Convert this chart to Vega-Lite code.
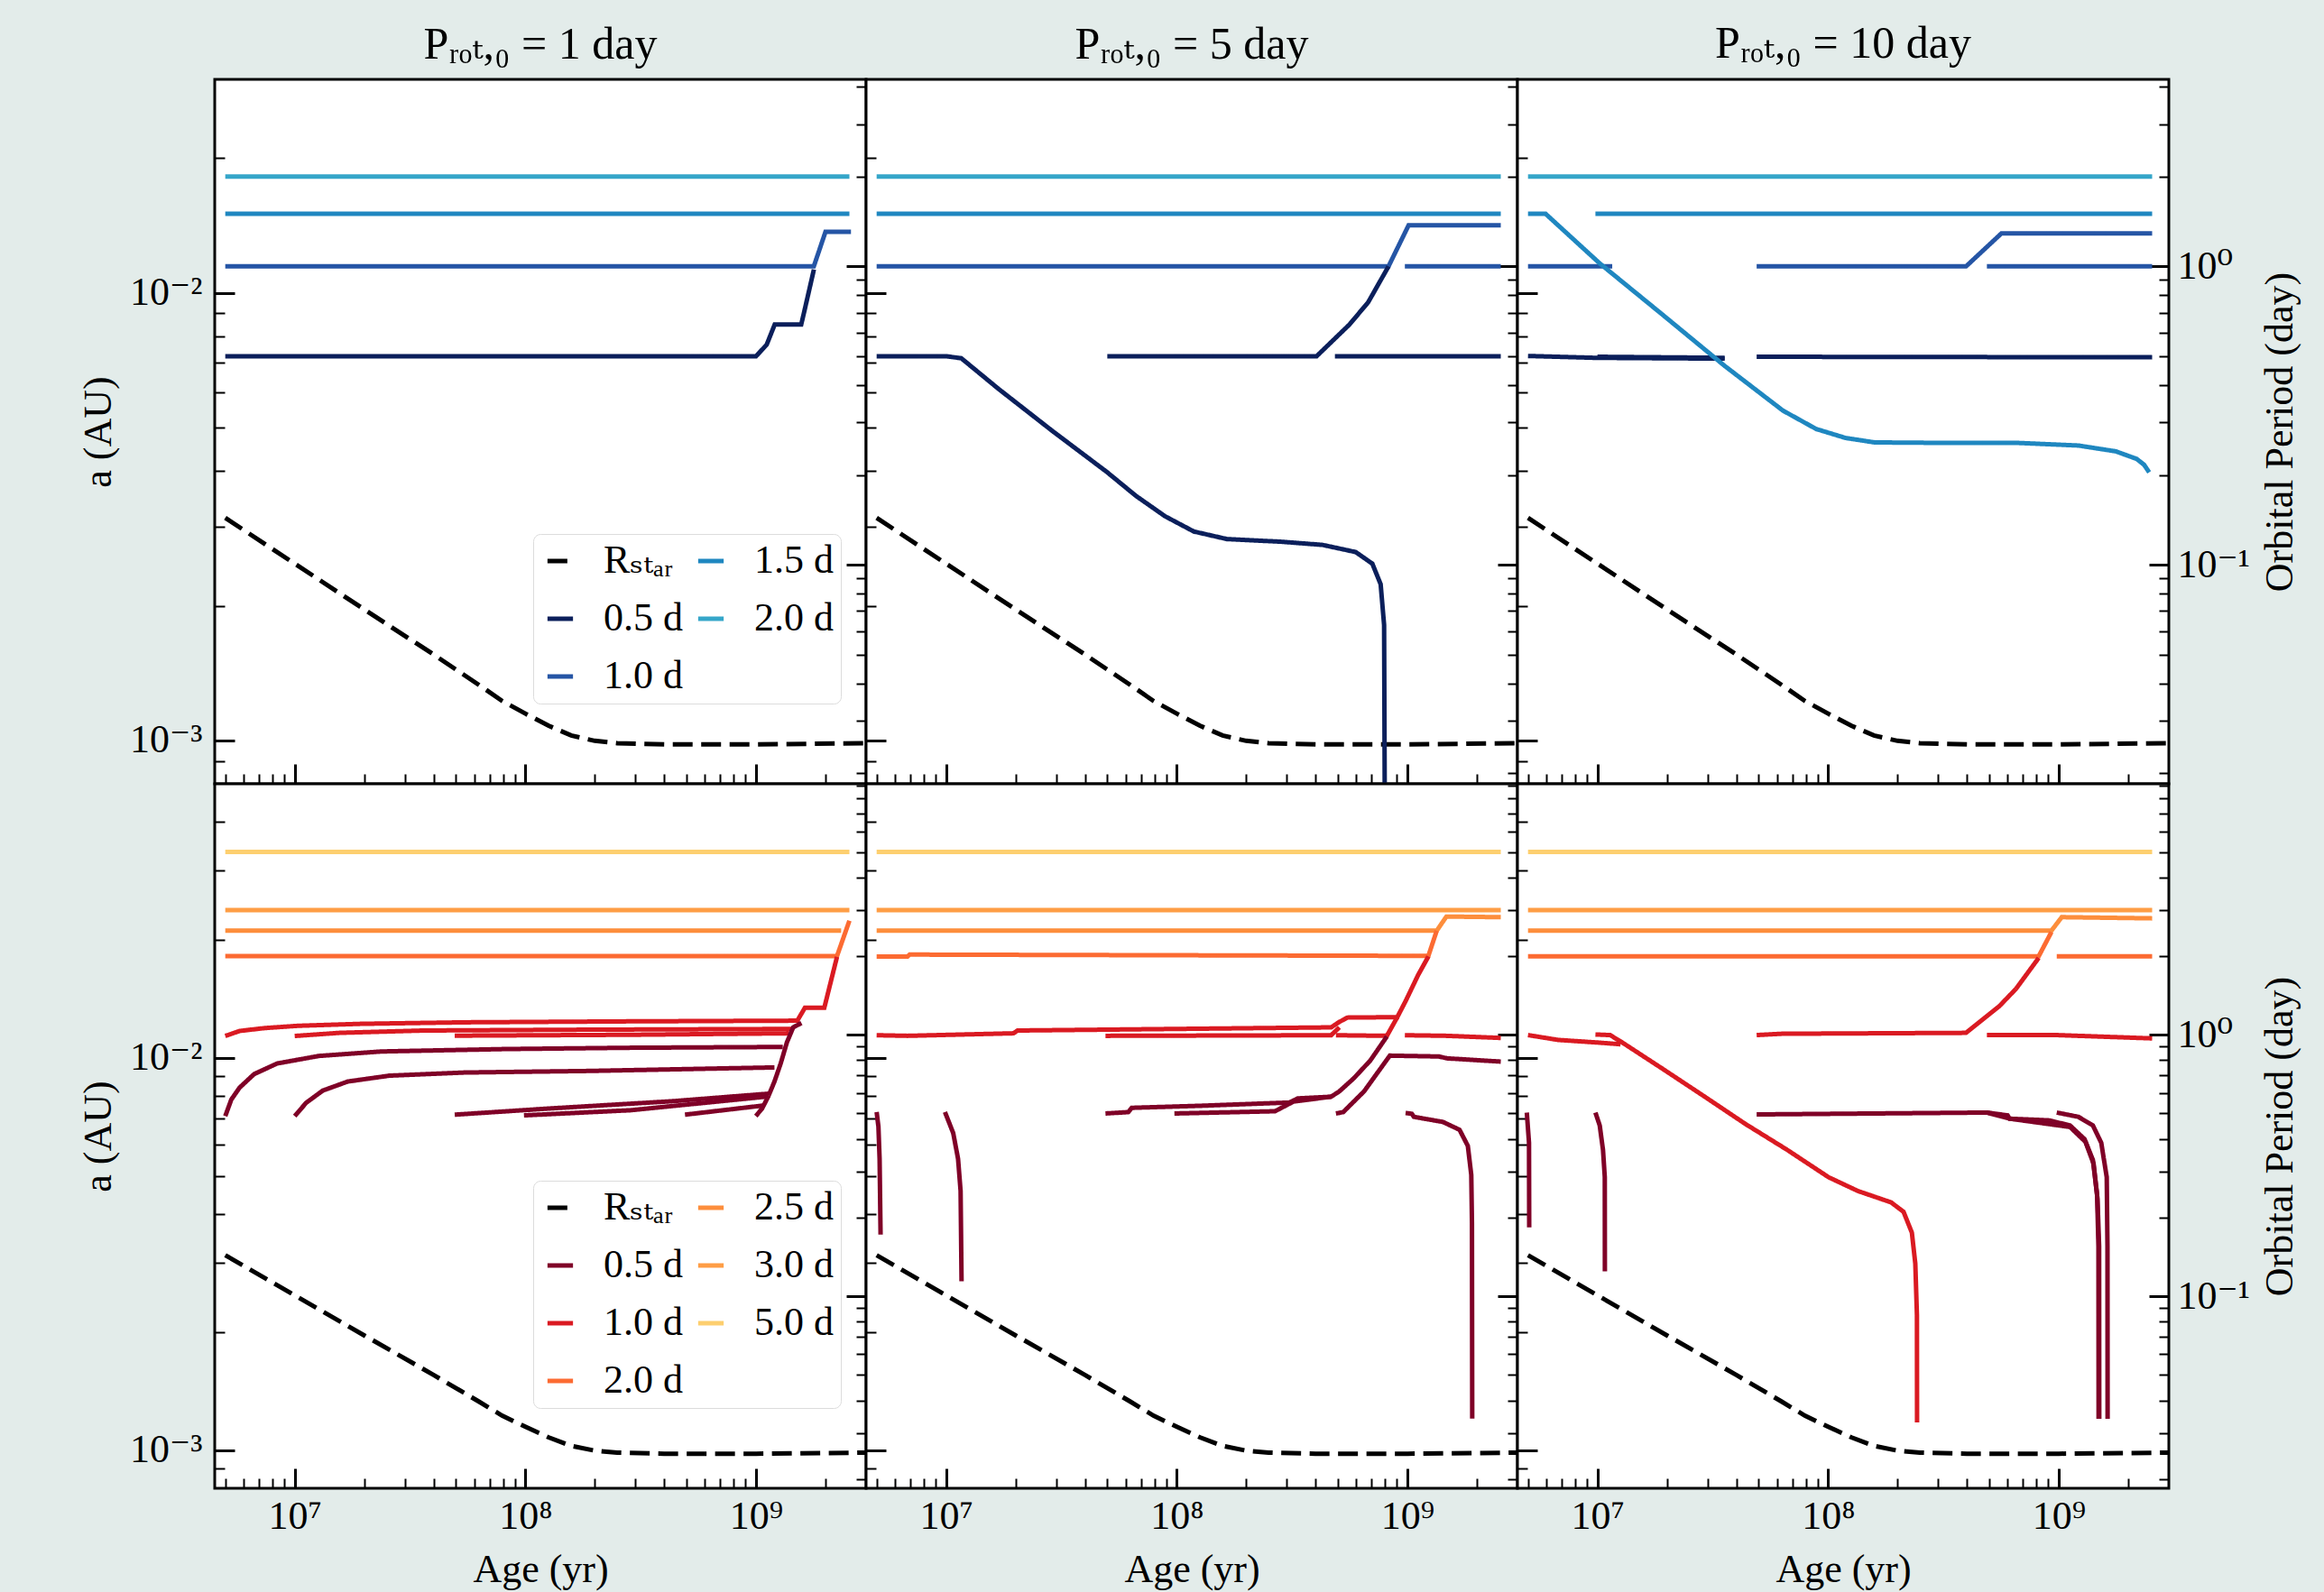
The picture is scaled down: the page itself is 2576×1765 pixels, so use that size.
{
"$schema": "https://vega.github.io/schema/vega-lite/v6.json",
"background": "#e3ecea",
"autosize": {"type": "pad"},
"padding": {"left": 86, "top": 22, "right": 30, "bottom": 10},
"config": {
 "font": "Liberation Serif, DejaVu Serif",
 "view": {"stroke": "black", "strokeWidth": 3, "fill": "white"},
 "axis": {"domain": false, "grid": false, "labelFont": "Liberation Serif, DejaVu Serif", "titleFont": "Liberation Serif, DejaVu Serif", "labelFontSize": 44, "titleFontSize": 44, "titleFontWeight": "normal", "labelColor": "black", "titleColor": "black", "tickColor": "black", "labelFlush": false, "labelOverlap": false, "labelBound": false},
 "title": {"font": "Liberation Serif, DejaVu Serif", "fontSize": 50, "fontWeight": "normal", "color": "black"},
 "legend": {"columns": 2, "title": null, "symbolType": "stroke", "symbolSize": 800, "symbolStrokeWidth": 5, "labelFontSize": 44, "labelFont": "Liberation Serif, DejaVu Serif", "labelColor": "black", "rowPadding": 20, "columnPadding": 6, "labelOffset": 26, "padding": 8, "fillColor": "white", "strokeColor": "#dcdcdc", "cornerRadius": 8}
},
"datasets": {"d": [
{"p":"R","s":"r","g":"Rstar","t":5e6,"a":0.003143},
{"p":"R","s":"r","g":"Rstar","t":1e7,"a":0.002483},
{"p":"R","s":"r","g":"Rstar","t":2e7,"a":0.001963},
{"p":"R","s":"r","g":"Rstar","t":4e7,"a":0.001556},
{"p":"R","s":"r","g":"Rstar","t":6.3e7,"a":0.00133},
{"p":"R","s":"r","g":"Rstar","t":7.94e7,"a":0.001225},
{"p":"R","s":"r","g":"Rstar","t":1e8,"a":0.001148},
{"p":"R","s":"r","g":"Rstar","t":1.26e8,"a":0.001079},
{"p":"R","s":"r","g":"Rstar","t":1.58e8,"a":0.001026},
{"p":"R","s":"r","g":"Rstar","t":2e8,"a":0.000998},
{"p":"R","s":"r","g":"Rstar","t":2.5e8,"a":0.000986},
{"p":"R","s":"r","g":"Rstar","t":4e8,"a":0.00098},
{"p":"R","s":"r","g":"Rstar","t":1e9,"a":0.00098},
{"p":"R","s":"r","g":"Rstar","t":3e9,"a":0.000986},

{"p":"T1","s":"a","g":"2.0 d","t":5e6,"a":0.01819},
{"p":"T1","s":"a","g":"2.0 d","t":2.54e9,"a":0.01819},
{"p":"T1","s":"b","g":"1.5 d","t":5e6,"a":0.01502},
{"p":"T1","s":"b","g":"1.5 d","t":2.54e9,"a":0.01502},
{"p":"T1","s":"c","g":"1.0 d","t":5e6,"a":0.01146},
{"p":"T1","s":"c","g":"1.0 d","t":1.78e9,"a":0.01146},
{"p":"T1","s":"c","g":"1.0 d","t":2.0e9,"a":0.01369},
{"p":"T1","s":"c","g":"1.0 d","t":2.58e9,"a":0.01369},
{"p":"T1","s":"d","g":"0.5 d","t":5e6,"a":0.00722},
{"p":"T1","s":"d","g":"0.5 d","t":1e9,"a":0.00722},
{"p":"T1","s":"d","g":"0.5 d","t":1.112e9,"a":0.00766},
{"p":"T1","s":"d","g":"0.5 d","t":1.205e9,"a":0.0085},
{"p":"T1","s":"d","g":"0.5 d","t":1.57e9,"a":0.0085},
{"p":"T1","s":"d","g":"0.5 d","t":1.618e9,"a":0.00908},
{"p":"T1","s":"d","g":"0.5 d","t":1.782e9,"a":0.01128},

{"p":"T2","s":"a","g":"2.0 d","t":5e6,"a":0.01819},
{"p":"T2","s":"a","g":"2.0 d","t":2.54e9,"a":0.01819},
{"p":"T2","s":"b","g":"1.5 d","t":5e6,"a":0.01502},
{"p":"T2","s":"b","g":"1.5 d","t":2.54e9,"a":0.01502},
{"p":"T2","s":"c","g":"1.0 d","t":5e6,"a":0.01146},
{"p":"T2","s":"c","g":"1.0 d","t":8.28e8,"a":0.01146},
{"p":"T2","s":"c","g":"1.0 d","t":1.012e9,"a":0.01416},
{"p":"T2","s":"c","g":"1.0 d","t":2.54e9,"a":0.01416},
{"p":"T2","s":"e","g":"1.0 d","t":9.75e8,"a":0.01146},
{"p":"T2","s":"e","g":"1.0 d","t":2.54e9,"a":0.01146},
{"p":"T2","s":"f","g":"0.5 d","t":5e6,"a":0.00722},
{"p":"T2","s":"f","g":"0.5 d","t":1e7,"a":0.00722},
{"p":"T2","s":"f","g":"0.5 d","t":1.164e7,"a":0.007145},
{"p":"T2","s":"f","g":"0.5 d","t":1.69e7,"a":0.0061},
{"p":"T2","s":"f","g":"0.5 d","t":2.897e7,"a":0.00491},
{"p":"T2","s":"f","g":"0.5 d","t":4.977e7,"a":0.00398},
{"p":"T2","s":"f","g":"0.5 d","t":6.653e7,"a":0.00352},
{"p":"T2","s":"f","g":"0.5 d","t":8.89e7,"a":0.00317},
{"p":"T2","s":"f","g":"0.5 d","t":1.186e8,"a":0.00293},
{"p":"T2","s":"f","g":"0.5 d","t":1.652e8,"a":0.002818},
{"p":"T2","s":"f","g":"0.5 d","t":2.831e8,"a":0.00278},
{"p":"T2","s":"f","g":"0.5 d","t":4.285e8,"a":0.002735},
{"p":"T2","s":"f","g":"0.5 d","t":5.97e8,"a":0.002636},
{"p":"T2","s":"f","g":"0.5 d","t":7.047e8,"a":0.002483},
{"p":"T2","s":"f","g":"0.5 d","t":7.656e8,"a":0.002234},
{"p":"T2","s":"f","g":"0.5 d","t":7.925e8,"a":0.001811},
{"p":"T2","s":"f","g":"0.5 d","t":7.998e8,"a":0.0005},
{"p":"T2","s":"g","g":"0.5 d","t":5e7,"a":0.00722},
{"p":"T2","s":"g","g":"0.5 d","t":4.04e8,"a":0.00722},
{"p":"T2","s":"g","g":"0.5 d","t":5.61e8,"a":0.0085},
{"p":"T2","s":"g","g":"0.5 d","t":6.76e8,"a":0.00953},
{"p":"T2","s":"g","g":"0.5 d","t":8.28e8,"a":0.01146},
{"p":"T2","s":"h","g":"0.5 d","t":4.85e8,"a":0.00722},
{"p":"T2","s":"h","g":"0.5 d","t":2.54e9,"a":0.00722},

{"p":"T3","s":"a","g":"2.0 d","t":5e6,"a":0.01819},
{"p":"T3","s":"a","g":"2.0 d","t":2.54e9,"a":0.01819},
{"p":"T3","s":"c","g":"1.5 d","t":9.8e6,"a":0.01502},
{"p":"T3","s":"c","g":"1.5 d","t":2.54e9,"a":0.01502},
{"p":"T3","s":"d","g":"1.0 d","t":5e6,"a":0.01146},
{"p":"T3","s":"d","g":"1.0 d","t":1.159e7,"a":0.01146},
{"p":"T3","s":"e","g":"1.0 d","t":4.9e7,"a":0.01146},
{"p":"T3","s":"e","g":"1.0 d","t":3.96e8,"a":0.01146},
{"p":"T3","s":"e","g":"1.0 d","t":5.64e8,"a":0.01358},
{"p":"T3","s":"e","g":"1.0 d","t":2.54e9,"a":0.01358},
{"p":"T3","s":"f","g":"1.0 d","t":4.88e8,"a":0.01146},
{"p":"T3","s":"f","g":"1.0 d","t":2.54e9,"a":0.01146},
{"p":"T3","s":"g","g":"0.5 d","t":5e6,"a":0.00723},
{"p":"T3","s":"g","g":"0.5 d","t":9.8e6,"a":0.00716},
{"p":"T3","s":"g","g":"0.5 d","t":3.56e7,"a":0.00713},
{"p":"T3","s":"h","g":"0.5 d","t":1e7,"a":0.0072},
{"p":"T3","s":"h","g":"0.5 d","t":3.56e7,"a":0.00716},
{"p":"T3","s":"i","g":"0.5 d","t":4.9e7,"a":0.0072},
{"p":"T3","s":"i","g":"0.5 d","t":2.54e9,"a":0.00718},
{"p":"T3","s":"b","g":"1.5 d","t":5e6,"a":0.01502},
{"p":"T3","s":"b","g":"1.5 d","t":5.96e6,"a":0.01502},
{"p":"T3","s":"b","g":"1.5 d","t":1.023e7,"a":0.01164},
{"p":"T3","s":"b","g":"1.5 d","t":1.91e7,"a":0.00895},
{"p":"T3","s":"b","g":"1.5 d","t":3.56e7,"a":0.00687},
{"p":"T3","s":"b","g":"1.5 d","t":6.37e7,"a":0.005458},
{"p":"T3","s":"b","g":"1.5 d","t":8.87e7,"a":0.004966},
{"p":"T3","s":"b","g":"1.5 d","t":1.189e8,"a":0.004742},
{"p":"T3","s":"b","g":"1.5 d","t":1.589e8,"a":0.004634},
{"p":"T3","s":"b","g":"1.5 d","t":2.84e8,"a":0.004624},
{"p":"T3","s":"b","g":"1.5 d","t":6.52e8,"a":0.004624},
{"p":"T3","s":"b","g":"1.5 d","t":1.216e9,"a":0.00456},
{"p":"T3","s":"b","g":"1.5 d","t":1.766e9,"a":0.004426},
{"p":"T3","s":"b","g":"1.5 d","t":2.178e9,"a":0.004256},
{"p":"T3","s":"b","g":"1.5 d","t":2.344e9,"a":0.00413},
{"p":"T3","s":"b","g":"1.5 d","t":2.466e9,"a":0.003972},

{"p":"B1","s":"a","g":"5.0 d","t":5e6,"a":0.03351},
{"p":"B1","s":"a","g":"5.0 d","t":2.54e9,"a":0.03351},
{"p":"B1","s":"b","g":"3.0 d","t":5e6,"a":0.02384},
{"p":"B1","s":"b","g":"3.0 d","t":2.54e9,"a":0.02384},
{"p":"B1","s":"c","g":"2.5 d","t":5e6,"a":0.02111},
{"p":"B1","s":"c","g":"2.5 d","t":2.339e9,"a":0.02111},
{"p":"B1","s":"d","g":"2.0 d","t":5e6,"a":0.01819},
{"p":"B1","s":"d","g":"2.0 d","t":2.244e9,"a":0.01819},
{"p":"B1","s":"d","g":"2.0 d","t":2.54e9,"a":0.02239},
{"p":"B1","s":"e","g":"1.0 d","t":5e6,"a":0.01138},
{"p":"B1","s":"e","g":"1.0 d","t":5.77e6,"a":0.01172},
{"p":"B1","s":"e","g":"1.0 d","t":7.41e6,"a":0.01192},
{"p":"B1","s":"e","g":"1.0 d","t":1.033e7,"a":0.01208},
{"p":"B1","s":"e","g":"1.0 d","t":1.928e7,"a":0.01222},
{"p":"B1","s":"e","g":"1.0 d","t":5.45e7,"a":0.01233},
{"p":"B1","s":"e","g":"1.0 d","t":2.864e8,"a":0.0124},
{"p":"B1","s":"e","g":"1.0 d","t":1.51e9,"a":0.01245},
{"p":"B1","s":"e","g":"1.0 d","t":1.629e9,"a":0.01343},
{"p":"B1","s":"e","g":"1.0 d","t":1.977e9,"a":0.01343},
{"p":"B1","s":"e","g":"1.0 d","t":2.244e9,"a":0.01811},
{"p":"B1","s":"f","g":"1.0 d","t":1e7,"a":0.01138},
{"p":"B1","s":"f","g":"1.0 d","t":1.563e7,"a":0.01159},
{"p":"B1","s":"f","g":"1.0 d","t":3.59e7,"a":0.01175},
{"p":"B1","s":"f","g":"1.0 d","t":1.892e8,"a":0.01181},
{"p":"B1","s":"f","g":"1.0 d","t":1.449e9,"a":0.01186},
{"p":"B1","s":"g","g":"1.0 d","t":4.94e7,"a":0.0114},
{"p":"B1","s":"g","g":"1.0 d","t":2.864e8,"a":0.01146},
{"p":"B1","s":"g","g":"1.0 d","t":1.39e9,"a":0.01156},
{"p":"B1","s":"h","g":"0.5 d","t":5e6,"a":0.007112},
{"p":"B1","s":"h","g":"0.5 d","t":5.31e6,"a":0.007834},
{"p":"B1","s":"h","g":"0.5 d","t":5.77e6,"a":0.008405},
{"p":"B1","s":"h","g":"0.5 d","t":6.67e6,"a":0.009099},
{"p":"B1","s":"h","g":"0.5 d","t":8.39e6,"a":0.009683},
{"p":"B1","s":"h","g":"0.5 d","t":1.271e7,"a":0.01012},
{"p":"B1","s":"h","g":"0.5 d","t":2.371e7,"a":0.01039},
{"p":"B1","s":"h","g":"0.5 d","t":8.24e7,"a":0.01054},
{"p":"B1","s":"h","g":"0.5 d","t":2.864e8,"a":0.01062},
{"p":"B1","s":"h","g":"0.5 d","t":1.306e9,"a":0.01067},
{"p":"B1","s":"i","g":"0.5 d","t":1e7,"a":0.007112},
{"p":"B1","s":"i","g":"0.5 d","t":1.122e7,"a":0.007691},
{"p":"B1","s":"i","g":"0.5 d","t":1.324e7,"a":0.00826},
{"p":"B1","s":"i","g":"0.5 d","t":1.698e7,"a":0.00871},
{"p":"B1","s":"i","g":"0.5 d","t":2.576e7,"a":0.009016},
{"p":"B1","s":"i","g":"0.5 d","t":5.45e7,"a":0.009183},
{"p":"B1","s":"i","g":"0.5 d","t":1.892e8,"a":0.009268},
{"p":"B1","s":"i","g":"0.5 d","t":1.202e9,"a":0.009462},
{"p":"B1","s":"j","g":"0.5 d","t":4.94e7,"a":0.00717},
{"p":"B1","s":"j","g":"0.5 d","t":1.247e8,"a":0.00743},
{"p":"B1","s":"j","g":"0.5 d","t":4.345e8,"a":0.00776},
{"p":"B1","s":"j","g":"0.5 d","t":1.13e9,"a":0.00811},
{"p":"B1","s":"k","g":"0.5 d","t":9.86e7,"a":0.00714},
{"p":"B1","s":"k","g":"0.5 d","t":2.864e8,"a":0.00736},
{"p":"B1","s":"k","g":"0.5 d","t":1.13e9,"a":0.00798},
{"p":"B1","s":"l","g":"0.5 d","t":4.92e8,"a":0.00717},
{"p":"B1","s":"l","g":"0.5 d","t":1.084e9,"a":0.00757},
{"p":"B1","s":"m","g":"0.5 d","t":9.98e8,"a":0.007112},
{"p":"B1","s":"m","g":"0.5 d","t":1.062e9,"a":0.00743},
{"p":"B1","s":"m","g":"0.5 d","t":1.13e9,"a":0.00798},
{"p":"B1","s":"m","g":"0.5 d","t":1.202e9,"a":0.00871},
{"p":"B1","s":"m","g":"0.5 d","t":1.279e9,"a":0.009683},
{"p":"B1","s":"m","g":"0.5 d","t":1.361e9,"a":0.01096},
{"p":"B1","s":"m","g":"0.5 d","t":1.449e9,"a":0.01197},
{"p":"B1","s":"m","g":"0.5 d","t":1.574e9,"a":0.01228},

{"p":"B2","s":"a","g":"5.0 d","t":5e6,"a":0.03351},
{"p":"B2","s":"a","g":"5.0 d","t":2.54e9,"a":0.03351},
{"p":"B2","s":"b","g":"3.0 d","t":5e6,"a":0.02384},
{"p":"B2","s":"b","g":"3.0 d","t":2.54e9,"a":0.02384},
{"p":"B2","s":"c","g":"2.5 d","t":5e6,"a":0.02111},
{"p":"B2","s":"c","g":"2.5 d","t":1.34e9,"a":0.02111},
{"p":"B2","s":"c","g":"2.5 d","t":1.476e9,"a":0.02294},
{"p":"B2","s":"c","g":"2.5 d","t":2.54e9,"a":0.02286},
{"p":"B2","s":"d","g":"2.0 d","t":5e6,"a":0.01815},
{"p":"B2","s":"d","g":"2.0 d","t":6.81e6,"a":0.01815},
{"p":"B2","s":"d","g":"2.0 d","t":6.95e6,"a":0.01835},
{"p":"B2","s":"d","g":"2.0 d","t":1.233e9,"a":0.01821},
{"p":"B2","s":"d","g":"2.0 d","t":1.34e9,"a":0.02111},
{"p":"B2","s":"e","g":"1.0 d","t":5e6,"a":0.01143},
{"p":"B2","s":"e","g":"1.0 d","t":6.81e6,"a":0.01139},
{"p":"B2","s":"e","g":"1.0 d","t":1.959e7,"a":0.01156},
{"p":"B2","s":"e","g":"1.0 d","t":2.042e7,"a":0.01175},
{"p":"B2","s":"e","g":"1.0 d","t":4.67e8,"a":0.01197},
{"p":"B2","s":"e","g":"1.0 d","t":5.07e8,"a":0.01236},
{"p":"B2","s":"e","g":"1.0 d","t":5.5e8,"a":0.01268},
{"p":"B2","s":"e","g":"1.0 d","t":9.04e8,"a":0.01271},
{"p":"B2","s":"e","g":"1.0 d","t":9.82e8,"a":0.01396},
{"p":"B2","s":"e","g":"1.0 d","t":1.112e9,"a":0.01626},
{"p":"B2","s":"e","g":"1.0 d","t":1.233e9,"a":0.01815},
{"p":"B2","s":"f","g":"1.0 d","t":4.91e7,"a":0.01139},
{"p":"B2","s":"f","g":"1.0 d","t":4.67e8,"a":0.01143},
{"p":"B2","s":"f","g":"1.0 d","t":5.07e8,"a":0.01197},
{"p":"B2","s":"g","g":"1.0 d","t":4.9e8,"a":0.01143},
{"p":"B2","s":"g","g":"1.0 d","t":8.15e8,"a":0.01139},
{"p":"B2","s":"g","g":"1.0 d","t":9.04e8,"a":0.01271},
{"p":"B2","s":"h","g":"1.0 d","t":9.75e8,"a":0.01143},
{"p":"B2","s":"h","g":"1.0 d","t":1.486e9,"a":0.01139},
{"p":"B2","s":"h","g":"1.0 d","t":2.54e9,"a":0.01125},
{"p":"B2","s":"i","g":"0.5 d","t":5e6,"a":0.00728},
{"p":"B2","s":"i","g":"0.5 d","t":5.09e6,"a":0.006683},
{"p":"B2","s":"i","g":"0.5 d","t":5.15e6,"a":0.005534},
{"p":"B2","s":"i","g":"0.5 d","t":5.2e6,"a":0.003548},
{"p":"B2","s":"j","g":"0.5 d","t":9.89e6,"a":0.00728},
{"p":"B2","s":"j","g":"0.5 d","t":1.074e7,"a":0.006434},
{"p":"B2","s":"j","g":"0.5 d","t":1.127e7,"a":0.005534},
{"p":"B2","s":"j","g":"0.5 d","t":1.156e7,"a":0.004581},
{"p":"B2","s":"j","g":"0.5 d","t":1.167e7,"a":0.002698},
{"p":"B2","s":"k","g":"0.5 d","t":4.91e7,"a":0.00722},
{"p":"B2","s":"k","g":"0.5 d","t":6.17e7,"a":0.00728},
{"p":"B2","s":"k","g":"0.5 d","t":6.38e7,"a":0.007464},
{"p":"B2","s":"k","g":"0.5 d","t":1.239e8,"a":0.007551},
{"p":"B2","s":"k","g":"0.5 d","t":3.08e8,"a":0.0077},
{"p":"B2","s":"k","g":"0.5 d","t":3.35e8,"a":0.007889},
{"p":"B2","s":"k","g":"0.5 d","t":4.67e8,"a":0.007967},
{"p":"B2","s":"k","g":"0.5 d","t":5.07e8,"a":0.008222},
{"p":"B2","s":"k","g":"0.5 d","t":5.85e8,"a":0.008872},
{"p":"B2","s":"k","g":"0.5 d","t":6.9e8,"a":0.009847},
{"p":"B2","s":"k","g":"0.5 d","t":8.15e8,"a":0.01135},
{"p":"B2","s":"l","g":"0.5 d","t":9.77e7,"a":0.00722},
{"p":"B2","s":"l","g":"0.5 d","t":2.667e8,"a":0.007316},
{"p":"B2","s":"l","g":"0.5 d","t":3.21e8,"a":0.007745},
{"p":"B2","s":"l","g":"0.5 d","t":4.67e8,"a":0.007967},
{"p":"B2","s":"m","g":"0.5 d","t":4.9e8,"a":0.00722},
{"p":"B2","s":"m","g":"0.5 d","t":5.27e8,"a":0.00728},
{"p":"B2","s":"m","g":"0.5 d","t":6.49e8,"a":0.008222},
{"p":"B2","s":"m","g":"0.5 d","t":8.39e8,"a":0.01014},
{"p":"B2","s":"m","g":"0.5 d","t":1.368e9,"a":0.01009},
{"p":"B2","s":"m","g":"0.5 d","t":1.486e9,"a":0.00998},
{"p":"B2","s":"m","g":"0.5 d","t":2.54e9,"a":0.00979},
{"p":"B2","s":"n","g":"0.5 d","t":9.82e8,"a":0.00724},
{"p":"B2","s":"n","g":"0.5 d","t":1.045e9,"a":0.00721},
{"p":"B2","s":"n","g":"0.5 d","t":1.067e9,"a":0.007079},
{"p":"B2","s":"n","g":"0.5 d","t":1.426e9,"a":0.00687},
{"p":"B2","s":"n","g":"0.5 d","t":1.683e9,"a":0.006561},
{"p":"B2","s":"n","g":"0.5 d","t":1.828e9,"a":0.00597},
{"p":"B2","s":"n","g":"0.5 d","t":1.892e9,"a":0.005035},
{"p":"B2","s":"n","g":"0.5 d","t":1.905e9,"a":0.003788},
{"p":"B2","s":"n","g":"0.5 d","t":1.91e9,"a":0.001205},

{"p":"B3","s":"a","g":"5.0 d","t":5e6,"a":0.03351},
{"p":"B3","s":"a","g":"5.0 d","t":2.54e9,"a":0.03351},
{"p":"B3","s":"b","g":"3.0 d","t":5e6,"a":0.02384},
{"p":"B3","s":"b","g":"3.0 d","t":2.54e9,"a":0.02384},
{"p":"B3","s":"c","g":"2.5 d","t":5e6,"a":0.02111},
{"p":"B3","s":"c","g":"2.5 d","t":9.29e8,"a":0.02111},
{"p":"B3","s":"c","g":"2.5 d","t":1.03e9,"a":0.02286},
{"p":"B3","s":"c","g":"2.5 d","t":2.54e9,"a":0.0227},
{"p":"B3","s":"d","g":"2.0 d","t":5e6,"a":0.01816},
{"p":"B3","s":"d","g":"2.0 d","t":8.18e8,"a":0.01816},
{"p":"B3","s":"d","g":"2.0 d","t":9.29e8,"a":0.02094},
{"p":"B3","s":"e","g":"2.0 d","t":9.8e8,"a":0.01816},
{"p":"B3","s":"e","g":"2.0 d","t":2.54e9,"a":0.01816},
{"p":"B3","s":"f","g":"1.0 d","t":5e6,"a":0.01144},
{"p":"B3","s":"f","g":"1.0 d","t":6.75e6,"a":0.01112},
{"p":"B3","s":"f","g":"1.0 d","t":1.023e7,"a":0.01094},
{"p":"B3","s":"f","g":"1.0 d","t":1.259e7,"a":0.01084},
{"p":"B3","s":"g","g":"1.0 d","t":9.8e6,"a":0.01148},
{"p":"B3","s":"g","g":"1.0 d","t":1.135e7,"a":0.01144},
{"p":"B3","s":"g","g":"1.0 d","t":1.285e7,"a":0.01094},
{"p":"B3","s":"g","g":"1.0 d","t":1.91e7,"a":0.009397},
{"p":"B3","s":"g","g":"1.0 d","t":2.89e7,"a":0.007998},
{"p":"B3","s":"g","g":"1.0 d","t":4.375e7,"a":0.006792},
{"p":"B3","s":"g","g":"1.0 d","t":6.64e7,"a":0.005834},
{"p":"B3","s":"g","g":"1.0 d","t":1.005e8,"a":0.004966},
{"p":"B3","s":"g","g":"1.0 d","t":1.346e8,"a":0.004581},
{"p":"B3","s":"g","g":"1.0 d","t":1.875e8,"a":0.004285},
{"p":"B3","s":"g","g":"1.0 d","t":2.123e8,"a":0.004055},
{"p":"B3","s":"g","g":"1.0 d","t":2.307e8,"a":0.003589},
{"p":"B3","s":"g","g":"1.0 d","t":2.388e8,"a":0.002992},
{"p":"B3","s":"g","g":"1.0 d","t":2.427e8,"a":0.002208},
{"p":"B3","s":"g","g":"1.0 d","t":2.43e8,"a":0.001178},
{"p":"B3","s":"h","g":"1.0 d","t":4.9e7,"a":0.01144},
{"p":"B3","s":"h","g":"1.0 d","t":6.3e7,"a":0.01153},
{"p":"B3","s":"h","g":"1.0 d","t":3.96e8,"a":0.01159},
{"p":"B3","s":"h","g":"1.0 d","t":5.52e8,"a":0.01355},
{"p":"B3","s":"h","g":"1.0 d","t":6.52e8,"a":0.015},
{"p":"B3","s":"h","g":"1.0 d","t":8.18e8,"a":0.01799},
{"p":"B3","s":"i","g":"1.0 d","t":4.88e8,"a":0.01144},
{"p":"B3","s":"i","g":"1.0 d","t":9.8e8,"a":0.01144},
{"p":"B3","s":"i","g":"1.0 d","t":2.54e9,"a":0.01122},
{"p":"B3","s":"j","g":"0.5 d","t":4.94e6,"a":0.00726},
{"p":"B3","s":"j","g":"0.5 d","t":5.05e6,"a":0.00608},
{"p":"B3","s":"j","g":"0.5 d","t":5.06e6,"a":0.0037},
{"p":"B3","s":"k","g":"0.5 d","t":9.8e6,"a":0.00726},
{"p":"B3","s":"k","g":"0.5 d","t":1.023e7,"a":0.00673},
{"p":"B3","s":"k","g":"0.5 d","t":1.057e7,"a":0.00583},
{"p":"B3","s":"k","g":"0.5 d","t":1.076e7,"a":0.00497},
{"p":"B3","s":"k","g":"0.5 d","t":1.077e7,"a":0.00286},
{"p":"B3","s":"l","g":"0.5 d","t":4.9e7,"a":0.00718},
{"p":"B3","s":"l","g":"0.5 d","t":4.88e8,"a":0.00726},
{"p":"B3","s":"l","g":"0.5 d","t":6.0e8,"a":0.00714},
{"p":"B3","s":"l","g":"0.5 d","t":6.12e8,"a":0.007004},
{"p":"B3","s":"l","g":"0.5 d","t":9.1e8,"a":0.006934},
{"p":"B3","s":"l","g":"0.5 d","t":1.119e9,"a":0.00673},
{"p":"B3","s":"l","g":"0.5 d","t":1.294e9,"a":0.006209},
{"p":"B3","s":"l","g":"0.5 d","t":1.406e9,"a":0.005495},
{"p":"B3","s":"l","g":"0.5 d","t":1.466e9,"a":0.004487},
{"p":"B3","s":"l","g":"0.5 d","t":1.486e9,"a":0.003311},
{"p":"B3","s":"l","g":"0.5 d","t":1.488e9,"a":0.001202},
{"p":"B3","s":"m","g":"0.5 d","t":4.88e8,"a":0.00726},
{"p":"B3","s":"m","g":"0.5 d","t":6.12e8,"a":0.007004},
{"p":"B3","s":"m","g":"0.5 d","t":1.119e9,"a":0.00667},
{"p":"B3","s":"m","g":"0.5 d","t":1.306e9,"a":0.00611},
{"p":"B3","s":"m","g":"0.5 d","t":1.416e9,"a":0.00537},
{"p":"B3","s":"m","g":"0.5 d","t":1.472e9,"a":0.00437},
{"p":"B3","s":"m","g":"0.5 d","t":1.496e9,"a":0.00331},
{"p":"B3","s":"m","g":"0.5 d","t":1.498e9,"a":0.001202},
{"p":"B3","s":"n","g":"0.5 d","t":9.8e8,"a":0.00726},
{"p":"B3","s":"n","g":"0.5 d","t":1.216e9,"a":0.00708},
{"p":"B3","s":"n","g":"0.5 d","t":1.406e9,"a":0.00673},
{"p":"B3","s":"n","g":"0.5 d","t":1.528e9,"a":0.00608},
{"p":"B3","s":"n","g":"0.5 d","t":1.614e9,"a":0.00497},
{"p":"B3","s":"n","g":"0.5 d","t":1.626e9,"a":0.00331},
{"p":"B3","s":"n","g":"0.5 d","t":1.628e9,"a":0.001202}
]},
"columns": 3,
"spacing": 0,
"bounds": "flush",
"resolve": {"scale": {"color": "independent", "strokeDash": "independent"}},
"concat": [
 {"width": 722, "height": 781,
  "title": {"text": "Pᵣₒₜ,₀ = 1 day", "offset": -27, "baseline": "alphabetic", "frame": "group"},
  "layer": [
   {"data": {"name": "d"}, "transform": [{"filter": "datum.p == 'T1' || datum.p == 'R'"}],
    "mark": {"type": "line", "strokeWidth": 5, "clip": true},
    "encoding": {
     "x": {"field": "t", "type": "quantitative", "scale": {"type": "log", "domain": [4500000, 3000000000], "nice": false},
       "axis": {"values": [5e6,6e6,7e6,8e6,9e6,1e7,2e7,3e7,4e7,5e7,6e7,7e7,8e7,9e7,1e8,2e8,3e8,4e8,5e8,6e8,7e8,8e8,9e8,1e9,2e9], "labels": false, "title": null,
         "tickSize": {"condition": {"test": "datum.value == 10000000 || datum.value == 100000000 || datum.value == 1000000000", "value": -22}, "value": -11},
         "tickWidth": {"condition": {"test": "datum.value == 10000000 || datum.value == 100000000 || datum.value == 1000000000", "value": 3}, "value": 2}}},
     "y": {"field": "a", "type": "quantitative", "scale": {"type": "log", "domain": [0.0008, 0.03], "nice": false},
       "axis": {"orient": "left", "values": [0.0009,0.001,0.002,0.003,0.004,0.005,0.006,0.007,0.008,0.009,0.01,0.02], "title": "a (AU)", "titlePadding": 12, "labelPadding": 36,
         "labelExpr": "datum.value == 0.01 ? '10⁻²' : datum.value == 0.001 ? '10⁻³' : ''",
         "tickSize": {"condition": {"test": "datum.value == 0.01 || datum.value == 0.001", "value": -22}, "value": -11},
         "tickWidth": {"condition": {"test": "datum.value == 0.01 || datum.value == 0.001", "value": 3}, "value": 2}}},
     "color": {"field": "g", "type": "nominal", "scale": {"domain": ["Rstar","0.5 d","1.0 d","1.5 d","2.0 d"], "range": ["#000000","#0b1f5b","#2555a5","#1f87c0","#35a6c9"]},
       "legend": {"orient": "none", "legendX": 353, "legendY": 504, "labelExpr": "datum.label == 'Rstar' ? 'Rₛₜₐᵣ' : datum.label"}},
     "strokeDash": {"field": "g", "type": "nominal", "scale": {"domain": ["Rstar","0.5 d","1.0 d","1.5 d","2.0 d"], "range": [[22,9.5],[1,0],[1,0],[1,0],[1,0]]},
       "legend": {"orient": "none", "legendX": 353, "legendY": 504, "labelExpr": "datum.label == 'Rstar' ? 'Rₛₜₐᵣ' : datum.label"}},
     "detail": {"field": "s", "type": "nominal"}
    }},
   {"data": {"values": [{}]}, "mark": {"type": "rule", "opacity": 0},
    "encoding": {"y": {"datum": 1, "type": "quantitative", "scale": {"type": "log", "domain": [0.01844, 4.2355], "nice": false},
      "axis": {"orient": "right", "values": [0.02,0.03,0.04,0.05,0.06,0.07,0.08,0.09,0.1,0.2,0.3,0.4,0.5,0.6,0.7,0.8,0.9,1,2,3,4], "labels": false, "title": null,
        "tickSize": {"condition": {"test": "datum.value == 1 || datum.value == 0.1", "value": -22}, "value": -11},
        "tickWidth": {"condition": {"test": "datum.value == 1 || datum.value == 0.1", "value": 3}, "value": 2}}}}}
  ],
  "resolve": {"scale": {"y": "independent"}, "axis": {"y": "independent"}}
 },
 {"width": 722, "height": 781,
  "title": {"text": "Pᵣₒₜ,₀ = 5 day", "offset": -27, "baseline": "alphabetic", "frame": "group"},
  "layer": [
   {"data": {"name": "d"}, "transform": [{"filter": "datum.p == 'T2' || datum.p == 'R'"}],
    "mark": {"type": "line", "strokeWidth": 5, "clip": true},
    "encoding": {
     "x": {"field": "t", "type": "quantitative", "scale": {"type": "log", "domain": [4500000, 3000000000], "nice": false},
       "axis": {"values": [5e6,6e6,7e6,8e6,9e6,1e7,2e7,3e7,4e7,5e7,6e7,7e7,8e7,9e7,1e8,2e8,3e8,4e8,5e8,6e8,7e8,8e8,9e8,1e9,2e9], "labels": false, "title": null,
         "tickSize": {"condition": {"test": "datum.value == 10000000 || datum.value == 100000000 || datum.value == 1000000000", "value": -22}, "value": -11},
         "tickWidth": {"condition": {"test": "datum.value == 10000000 || datum.value == 100000000 || datum.value == 1000000000", "value": 3}, "value": 2}}},
     "y": {"field": "a", "type": "quantitative", "scale": {"type": "log", "domain": [0.0008, 0.03], "nice": false},
       "axis": {"orient": "left", "values": [0.0009,0.001,0.002,0.003,0.004,0.005,0.006,0.007,0.008,0.009,0.01,0.02], "labels": false, "title": null,
         "tickSize": {"condition": {"test": "datum.value == 0.01 || datum.value == 0.001", "value": -22}, "value": -11},
         "tickWidth": {"condition": {"test": "datum.value == 0.01 || datum.value == 0.001", "value": 3}, "value": 2}}},
     "color": {"field": "g", "type": "nominal", "scale": {"domain": ["Rstar","0.5 d","1.0 d","1.5 d","2.0 d"], "range": ["#000000","#0b1f5b","#2555a5","#1f87c0","#35a6c9"]}, "legend": null},
     "strokeDash": {"field": "g", "type": "nominal", "scale": {"domain": ["Rstar","0.5 d","1.0 d","1.5 d","2.0 d"], "range": [[22,9.5],[1,0],[1,0],[1,0],[1,0]]}, "legend": null},
     "detail": {"field": "s", "type": "nominal"}
    }},
   {"data": {"values": [{}]}, "mark": {"type": "rule", "opacity": 0},
    "encoding": {"y": {"datum": 1, "type": "quantitative", "scale": {"type": "log", "domain": [0.01844, 4.2355], "nice": false},
      "axis": {"orient": "right", "values": [0.02,0.03,0.04,0.05,0.06,0.07,0.08,0.09,0.1,0.2,0.3,0.4,0.5,0.6,0.7,0.8,0.9,1,2,3,4], "labels": false, "title": null,
        "tickSize": {"condition": {"test": "datum.value == 1 || datum.value == 0.1", "value": -22}, "value": -11},
        "tickWidth": {"condition": {"test": "datum.value == 1 || datum.value == 0.1", "value": 3}, "value": 2}}}}}
  ],
  "resolve": {"scale": {"y": "independent"}, "axis": {"y": "independent"}}
 },
 {"width": 722, "height": 781,
  "title": {"text": "Pᵣₒₜ,₀ = 10 day", "offset": -40, "baseline": "alphabetic", "frame": "group"},
  "layer": [
   {"data": {"name": "d"}, "transform": [{"filter": "datum.p == 'T3' || datum.p == 'R'"}],
    "mark": {"type": "line", "strokeWidth": 5, "clip": true},
    "encoding": {
     "x": {"field": "t", "type": "quantitative", "scale": {"type": "log", "domain": [4500000, 3000000000], "nice": false},
       "axis": {"values": [5e6,6e6,7e6,8e6,9e6,1e7,2e7,3e7,4e7,5e7,6e7,7e7,8e7,9e7,1e8,2e8,3e8,4e8,5e8,6e8,7e8,8e8,9e8,1e9,2e9], "labels": false, "title": null,
         "tickSize": {"condition": {"test": "datum.value == 10000000 || datum.value == 100000000 || datum.value == 1000000000", "value": -22}, "value": -11},
         "tickWidth": {"condition": {"test": "datum.value == 10000000 || datum.value == 100000000 || datum.value == 1000000000", "value": 3}, "value": 2}}},
     "y": {"field": "a", "type": "quantitative", "scale": {"type": "log", "domain": [0.0008, 0.03], "nice": false},
       "axis": {"orient": "left", "values": [0.0009,0.001,0.002,0.003,0.004,0.005,0.006,0.007,0.008,0.009,0.01,0.02], "labels": false, "title": null,
         "tickSize": {"condition": {"test": "datum.value == 0.01 || datum.value == 0.001", "value": -22}, "value": -11},
         "tickWidth": {"condition": {"test": "datum.value == 0.01 || datum.value == 0.001", "value": 3}, "value": 2}}},
     "color": {"field": "g", "type": "nominal", "scale": {"domain": ["Rstar","0.5 d","1.0 d","1.5 d","2.0 d"], "range": ["#000000","#0b1f5b","#2555a5","#1f87c0","#35a6c9"]}, "legend": null},
     "strokeDash": {"field": "g", "type": "nominal", "scale": {"domain": ["Rstar","0.5 d","1.0 d","1.5 d","2.0 d"], "range": [[22,9.5],[1,0],[1,0],[1,0],[1,0]]}, "legend": null},
     "detail": {"field": "s", "type": "nominal"}
    }},
   {"data": {"values": [{}]}, "mark": {"type": "rule", "opacity": 0},
    "encoding": {"y": {"datum": 1, "type": "quantitative", "scale": {"type": "log", "domain": [0.01844, 4.2355], "nice": false},
      "axis": {"orient": "right", "values": [0.02,0.03,0.04,0.05,0.06,0.07,0.08,0.09,0.1,0.2,0.3,0.4,0.5,0.6,0.7,0.8,0.9,1,2,3,4], "title": "Orbital Period (day)", "titleAngle": 270, "titleBaseline": "top", "titlePadding": 12, "labelPadding": 31,
        "labelExpr": "datum.value == 1 ? '10⁰' : datum.value == 0.1 ? '10⁻¹' : ''",
        "tickSize": {"condition": {"test": "datum.value == 1 || datum.value == 0.1", "value": -22}, "value": -11},
        "tickWidth": {"condition": {"test": "datum.value == 1 || datum.value == 0.1", "value": 3}, "value": 2}}}}}
  ],
  "resolve": {"scale": {"y": "independent"}, "axis": {"y": "independent"}}
 },
 {"width": 722, "height": 781,
  "layer": [
   {"data": {"name": "d"}, "transform": [{"filter": "datum.p == 'B1' || datum.p == 'R'"}],
    "mark": {"type": "line", "strokeWidth": 5, "clip": true},
    "encoding": {
     "x": {"field": "t", "type": "quantitative", "scale": {"type": "log", "domain": [4500000, 3000000000], "nice": false},
       "axis": {"values": [5e6,6e6,7e6,8e6,9e6,1e7,2e7,3e7,4e7,5e7,6e7,7e7,8e7,9e7,1e8,2e8,3e8,4e8,5e8,6e8,7e8,8e8,9e8,1e9,2e9], "title": "Age (yr)", "titlePadding": 4, "labelPadding": 31,
         "labelExpr": "datum.value == 10000000 ? '10⁷' : datum.value == 100000000 ? '10⁸' : datum.value == 1000000000 ? '10⁹' : ''",
         "tickSize": {"condition": {"test": "datum.value == 10000000 || datum.value == 100000000 || datum.value == 1000000000", "value": -22}, "value": -11},
         "tickWidth": {"condition": {"test": "datum.value == 10000000 || datum.value == 100000000 || datum.value == 1000000000", "value": 3}, "value": 2}}},
     "y": {"field": "a", "type": "quantitative", "scale": {"type": "log", "domain": [0.0008, 0.05], "nice": false},
       "axis": {"orient": "left", "values": [0.0009,0.001,0.002,0.003,0.004,0.005,0.006,0.007,0.008,0.009,0.01,0.02,0.03,0.04], "title": "a (AU)", "titlePadding": 12, "labelPadding": 36,
         "labelExpr": "datum.value == 0.01 ? '10⁻²' : datum.value == 0.001 ? '10⁻³' : ''",
         "tickSize": {"condition": {"test": "datum.value == 0.01 || datum.value == 0.001", "value": -22}, "value": -11},
         "tickWidth": {"condition": {"test": "datum.value == 0.01 || datum.value == 0.001", "value": 3}, "value": 2}}},
     "color": {"field": "g", "type": "nominal", "scale": {"domain": ["Rstar","0.5 d","1.0 d","2.0 d","2.5 d","3.0 d","5.0 d"], "range": ["#000000","#7f0027","#da1a22","#fc6b32","#fd8e3c","#fe9d45","#fdcf6f"]},
       "legend": {"orient": "none", "legendX": 353, "legendY": 440, "labelExpr": "datum.label == 'Rstar' ? 'Rₛₜₐᵣ' : datum.label"}},
     "strokeDash": {"field": "g", "type": "nominal", "scale": {"domain": ["Rstar","0.5 d","1.0 d","2.0 d","2.5 d","3.0 d","5.0 d"], "range": [[22,9.5],[1,0],[1,0],[1,0],[1,0],[1,0],[1,0]]},
       "legend": {"orient": "none", "legendX": 353, "legendY": 440, "labelExpr": "datum.label == 'Rstar' ? 'Rₛₜₐᵣ' : datum.label"}},
     "detail": {"field": "s", "type": "nominal"}
    }},
   {"data": {"values": [{}]}, "mark": {"type": "rule", "opacity": 0},
    "encoding": {"y": {"datum": 1, "type": "quantitative", "scale": {"type": "log", "domain": [0.01844, 9.113], "nice": false},
      "axis": {"orient": "right", "values": [0.02,0.03,0.04,0.05,0.06,0.07,0.08,0.09,0.1,0.2,0.3,0.4,0.5,0.6,0.7,0.8,0.9,1,2,3,4,5,6,7,8,9], "labels": false, "title": null,
        "tickSize": {"condition": {"test": "datum.value == 1 || datum.value == 0.1", "value": -22}, "value": -11},
        "tickWidth": {"condition": {"test": "datum.value == 1 || datum.value == 0.1", "value": 3}, "value": 2}}}}}
  ],
  "resolve": {"scale": {"y": "independent"}, "axis": {"y": "independent"}}
 },
 {"width": 722, "height": 781,
  "layer": [
   {"data": {"name": "d"}, "transform": [{"filter": "datum.p == 'B2' || datum.p == 'R'"}],
    "mark": {"type": "line", "strokeWidth": 5, "clip": true},
    "encoding": {
     "x": {"field": "t", "type": "quantitative", "scale": {"type": "log", "domain": [4500000, 3000000000], "nice": false},
       "axis": {"values": [5e6,6e6,7e6,8e6,9e6,1e7,2e7,3e7,4e7,5e7,6e7,7e7,8e7,9e7,1e8,2e8,3e8,4e8,5e8,6e8,7e8,8e8,9e8,1e9,2e9], "title": "Age (yr)", "titlePadding": 4, "labelPadding": 31,
         "labelExpr": "datum.value == 10000000 ? '10⁷' : datum.value == 100000000 ? '10⁸' : datum.value == 1000000000 ? '10⁹' : ''",
         "tickSize": {"condition": {"test": "datum.value == 10000000 || datum.value == 100000000 || datum.value == 1000000000", "value": -22}, "value": -11},
         "tickWidth": {"condition": {"test": "datum.value == 10000000 || datum.value == 100000000 || datum.value == 1000000000", "value": 3}, "value": 2}}},
     "y": {"field": "a", "type": "quantitative", "scale": {"type": "log", "domain": [0.0008, 0.05], "nice": false},
       "axis": {"orient": "left", "values": [0.0009,0.001,0.002,0.003,0.004,0.005,0.006,0.007,0.008,0.009,0.01,0.02,0.03,0.04], "labels": false, "title": null,
         "tickSize": {"condition": {"test": "datum.value == 0.01 || datum.value == 0.001", "value": -22}, "value": -11},
         "tickWidth": {"condition": {"test": "datum.value == 0.01 || datum.value == 0.001", "value": 3}, "value": 2}}},
     "color": {"field": "g", "type": "nominal", "scale": {"domain": ["Rstar","0.5 d","1.0 d","2.0 d","2.5 d","3.0 d","5.0 d"], "range": ["#000000","#7f0027","#da1a22","#fc6b32","#fd8e3c","#fe9d45","#fdcf6f"]}, "legend": null},
     "strokeDash": {"field": "g", "type": "nominal", "scale": {"domain": ["Rstar","0.5 d","1.0 d","2.0 d","2.5 d","3.0 d","5.0 d"], "range": [[22,9.5],[1,0],[1,0],[1,0],[1,0],[1,0],[1,0]]}, "legend": null},
     "detail": {"field": "s", "type": "nominal"}
    }},
   {"data": {"values": [{}]}, "mark": {"type": "rule", "opacity": 0},
    "encoding": {"y": {"datum": 1, "type": "quantitative", "scale": {"type": "log", "domain": [0.01844, 9.113], "nice": false},
      "axis": {"orient": "right", "values": [0.02,0.03,0.04,0.05,0.06,0.07,0.08,0.09,0.1,0.2,0.3,0.4,0.5,0.6,0.7,0.8,0.9,1,2,3,4,5,6,7,8,9], "labels": false, "title": null,
        "tickSize": {"condition": {"test": "datum.value == 1 || datum.value == 0.1", "value": -22}, "value": -11},
        "tickWidth": {"condition": {"test": "datum.value == 1 || datum.value == 0.1", "value": 3}, "value": 2}}}}}
  ],
  "resolve": {"scale": {"y": "independent"}, "axis": {"y": "independent"}}
 },
 {"width": 722, "height": 781,
  "layer": [
   {"data": {"name": "d"}, "transform": [{"filter": "datum.p == 'B3' || datum.p == 'R'"}],
    "mark": {"type": "line", "strokeWidth": 5, "clip": true},
    "encoding": {
     "x": {"field": "t", "type": "quantitative", "scale": {"type": "log", "domain": [4500000, 3000000000], "nice": false},
       "axis": {"values": [5e6,6e6,7e6,8e6,9e6,1e7,2e7,3e7,4e7,5e7,6e7,7e7,8e7,9e7,1e8,2e8,3e8,4e8,5e8,6e8,7e8,8e8,9e8,1e9,2e9], "title": "Age (yr)", "titlePadding": 4, "labelPadding": 31,
         "labelExpr": "datum.value == 10000000 ? '10⁷' : datum.value == 100000000 ? '10⁸' : datum.value == 1000000000 ? '10⁹' : ''",
         "tickSize": {"condition": {"test": "datum.value == 10000000 || datum.value == 100000000 || datum.value == 1000000000", "value": -22}, "value": -11},
         "tickWidth": {"condition": {"test": "datum.value == 10000000 || datum.value == 100000000 || datum.value == 1000000000", "value": 3}, "value": 2}}},
     "y": {"field": "a", "type": "quantitative", "scale": {"type": "log", "domain": [0.0008, 0.05], "nice": false},
       "axis": {"orient": "left", "values": [0.0009,0.001,0.002,0.003,0.004,0.005,0.006,0.007,0.008,0.009,0.01,0.02,0.03,0.04], "labels": false, "title": null,
         "tickSize": {"condition": {"test": "datum.value == 0.01 || datum.value == 0.001", "value": -22}, "value": -11},
         "tickWidth": {"condition": {"test": "datum.value == 0.01 || datum.value == 0.001", "value": 3}, "value": 2}}},
     "color": {"field": "g", "type": "nominal", "scale": {"domain": ["Rstar","0.5 d","1.0 d","2.0 d","2.5 d","3.0 d","5.0 d"], "range": ["#000000","#7f0027","#da1a22","#fc6b32","#fd8e3c","#fe9d45","#fdcf6f"]}, "legend": null},
     "strokeDash": {"field": "g", "type": "nominal", "scale": {"domain": ["Rstar","0.5 d","1.0 d","2.0 d","2.5 d","3.0 d","5.0 d"], "range": [[22,9.5],[1,0],[1,0],[1,0],[1,0],[1,0],[1,0]]}, "legend": null},
     "detail": {"field": "s", "type": "nominal"}
    }},
   {"data": {"values": [{}]}, "mark": {"type": "rule", "opacity": 0},
    "encoding": {"y": {"datum": 1, "type": "quantitative", "scale": {"type": "log", "domain": [0.01844, 9.113], "nice": false},
      "axis": {"orient": "right", "values": [0.02,0.03,0.04,0.05,0.06,0.07,0.08,0.09,0.1,0.2,0.3,0.4,0.5,0.6,0.7,0.8,0.9,1,2,3,4,5,6,7,8,9], "title": "Orbital Period (day)", "titleAngle": 270, "titleBaseline": "top", "titlePadding": 12, "labelPadding": 31,
        "labelExpr": "datum.value == 1 ? '10⁰' : datum.value == 0.1 ? '10⁻¹' : ''",
        "tickSize": {"condition": {"test": "datum.value == 1 || datum.value == 0.1", "value": -22}, "value": -11},
        "tickWidth": {"condition": {"test": "datum.value == 1 || datum.value == 0.1", "value": 3}, "value": 2}}}}}
  ],
  "resolve": {"scale": {"y": "independent"}, "axis": {"y": "independent"}}
 }
]
}
